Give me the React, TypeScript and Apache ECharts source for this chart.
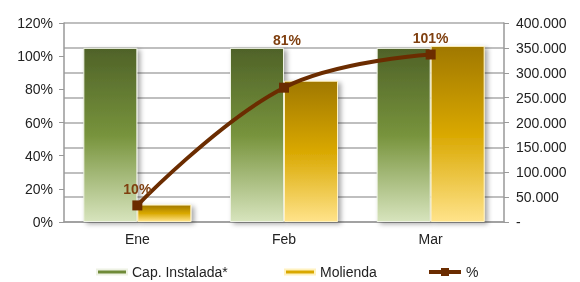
import React, { useEffect, useRef } from "react";
import * as echarts from "echarts";

const categories = ["Ene", "Feb", "Mar"];
const capInstalada = [350000, 350000, 350000];
const molienda = [35000, 284000, 354000];
const pct = [10, 81, 101];
const pctLabelOffsets = [[0, 1], [3, -31], [0, 0]];

const FONT = "'Liberation Sans', Arial, sans-serif";

export default function App() {
  const ref = useRef<HTMLDivElement>(null);
  useEffect(() => {
    if (!ref.current) return;
    const chart = echarts.init(ref.current, null, { renderer: "svg" });
    const green = new echarts.graphic.LinearGradient(0, 0, 0, 1, [
      { offset: 0, color: "#4f6228" },
      { offset: 0.5, color: "#77933c" },
      { offset: 1, color: "#d7e4bd" },
    ]);
    const gold = new echarts.graphic.LinearGradient(0, 0, 0, 1, [
      { offset: 0, color: "#a07800" },
      { offset: 0.5, color: "#d9a800" },
      { offset: 1, color: "#ffe38a" },
    ]);
    const legendText = { fontFamily: FONT, fontSize: 14, color: "#222" };
    chart.setOption({
      animation: false,
      grid: { left: 64, right: 76, top: 23, bottom: 60 },
      legend: [
        {
          data: [{ name: "Cap. Instalada*", icon: "rect", itemStyle: { color: "#6f8a38" } }],
          left: 91, top: 260, itemWidth: 30, itemHeight: 5, textStyle: legendText,
        },
        {
          data: [{ name: "Molienda", icon: "rect", itemStyle: { color: "#d9a800" } }],
          left: 279, top: 260, itemWidth: 30, itemHeight: 5, textStyle: legendText,
        },
        {
          data: ["%"],
          left: 422, top: 260, itemWidth: 32, itemHeight: 10, textStyle: legendText,
          lineStyle: { width: 4 },
        },
      ],
      xAxis: {
        type: "category",
        data: categories,
        axisLine: { lineStyle: { color: "#999", width: 1.5 } },
        axisTick: { show: false },
        axisLabel: { fontFamily: FONT, fontSize: 14, color: "#222", margin: 10 },
      },
      yAxis: [
        {
          type: "value",
          min: 0, max: 120, interval: 20,
          axisLine: { show: true, lineStyle: { color: "#999", width: 1.5 } },
          axisTick: { show: true, length: 5, lineStyle: { color: "#999" } },
          splitLine: { show: false },
          axisLabel: { formatter: "{value}%", fontFamily: FONT, fontSize: 14, color: "#222", margin: 11 },
        },
        {
          type: "value",
          min: 0, max: 400000, interval: 50000,
          axisLine: { show: true, lineStyle: { color: "#999", width: 1.5 } },
          axisTick: { show: true, length: 5, lineStyle: { color: "#999" } },
          splitLine: { show: true, lineStyle: { color: "#aaa", width: 1.5 } },
          axisLabel: {
            fontFamily: FONT, fontSize: 14, color: "#222", margin: 12,
            formatter: (v: number) => (v === 0 ? "-" : (v / 1000).toFixed(0) + ".000"),
          },
        },
      ],
      series: [
        {
          name: "Cap. Instalada*",
          type: "bar",
          yAxisIndex: 1,
          data: capInstalada,
          barWidth: 54,
          barGap: "0%",
          itemStyle: {
            color: green, borderColor: "#eef2e4", borderWidth: 1,
            shadowColor: "rgba(0,0,0,0.35)", shadowBlur: 5, shadowOffsetX: 3, shadowOffsetY: 2,
          },
        },
        {
          name: "Molienda",
          type: "bar",
          yAxisIndex: 1,
          data: molienda,
          barWidth: 54,
          barGap: "0%",
          itemStyle: {
            color: gold, borderColor: "#fff2c0", borderWidth: 1,
            shadowColor: "rgba(0,0,0,0.35)", shadowBlur: 5, shadowOffsetX: 3, shadowOffsetY: 2,
          },
        },
        {
          name: "%",
          type: "line",
          yAxisIndex: 0,
          smooth: 0.4,
          symbol: "rect",
          symbolSize: 10,
          lineStyle: { color: "#6b2c00", width: 4 },
          itemStyle: { color: "#6b2c00" },
          data: pct.map((v, i) => ({
            value: v,
            label: { offset: pctLabelOffsets[i] },
          })),
          label: {
            show: true,
            position: "top",
            formatter: "{c}%",
            fontFamily: FONT,
            fontSize: 14,
            fontWeight: "bold",
            color: "#7f3f0f",
          },
          z: 5,
        },
      ],
    });
    return () => chart.dispose();
  }, []);
  return (
    <div
      ref={ref}
      style={{ width: 580, height: 282, position: "fixed", left: 0, top: 0 }}
    />
  );
}
